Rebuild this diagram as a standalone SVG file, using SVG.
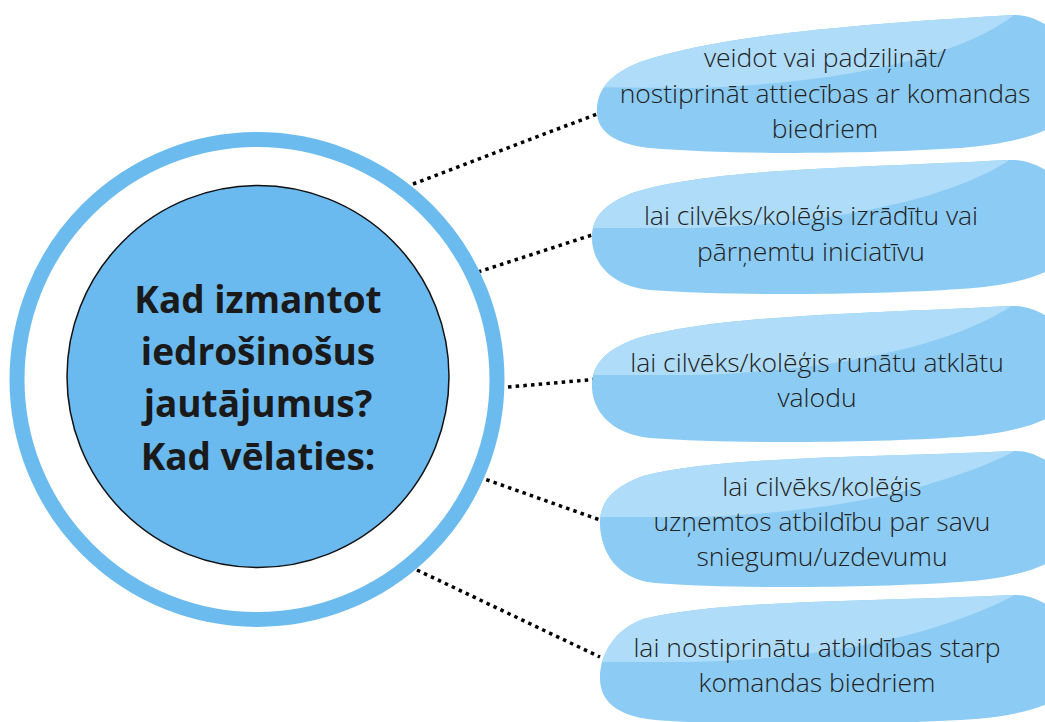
<svg xmlns="http://www.w3.org/2000/svg" xmlns:xlink="http://www.w3.org/1999/xlink" width="1045" height="722" viewBox="0 0 1045 722">
<style>
.dark{fill:#8ccbf3}
.light{fill:#aedcf9}
.btxt{font-family:"Open Sans","Liberation Sans",sans-serif;font-weight:300;font-size:26.5px;fill:#222;text-anchor:middle}
.ctxt{font-family:"Open Sans","Liberation Sans",sans-serif;font-weight:700;font-size:37px;fill:#1a1a1a;text-anchor:middle}
.dot{stroke:#000;stroke-width:3.5;stroke-dasharray:3.5 4.2;fill:none}
</style>
<rect width="1045" height="722" fill="#fff"/>
<g id="connectors">
<line class="dot" x1="413" y1="184" x2="597" y2="114"/>
<line class="dot" x1="478" y1="272" x2="595" y2="234"/>
<line class="dot" x1="508" y1="387" x2="599" y2="379"/>
<line class="dot" x1="479" y1="477" x2="600" y2="520"/>
<line class="dot" x1="417" y1="570" x2="600" y2="657"/>
</g>
<g id="center">
<circle cx="257" cy="379.5" r="240" fill="none" stroke="#6bbbef" stroke-width="15"/>
<circle cx="258" cy="376.5" r="191" fill="#6ab9ef" stroke="#111" stroke-width="1.5"/>
<text class="ctxt" x="258" y="313">Kad izmantot</text>
<text class="ctxt" x="258" y="365">iedrošinošus</text>
<text class="ctxt" x="258" y="417">jautājumus?</text>
<text class="ctxt" x="258" y="470">Kad vēlaties:</text>
</g>
<defs>
<clipPath id="c1"><path d="M597,113 C596,90 610,74 640,62 C720,35 860,24 1013,15 C1040,13 1075,40 1080,80 C1085,120 1040,142 960,148 C870,154 730,155 650,148 C615,144 598,132 597,113 Z"/></clipPath>
<clipPath id="c2"><path d="M592,240 C591,217 605,203 635,192 C715,168 860,168 1008,160 C1040,158 1075,185 1080,222 C1085,262 1040,284 960,289 C870,295 730,296 650,290 C610,286 593,262 592,240 Z"/></clipPath>
<clipPath id="c3"><path d="M592,388 C591,365 605,350 635,339 C715,315 860,314 1010,306 C1040,304 1075,330 1080,368 C1085,408 1040,432 960,437 C870,443 730,444 650,438 C610,434 593,410 592,388 Z"/></clipPath>
<clipPath id="c4"><path d="M600,525 C599,502 613,487 643,476 C723,456 860,458 1013,451 C1040,449 1075,475 1080,513 C1085,553 1040,577 960,582 C870,588 730,589 655,583 C615,579 601,550 600,525 Z"/></clipPath>
<clipPath id="c5"><path d="M600,680 C599,657 613,630 643,619 C723,600 860,602 1013,595 C1040,593 1075,618 1080,656 C1085,696 1040,716 960,720 C870,725 730,726 655,720 C615,716 601,700 600,680 Z"/></clipPath>
</defs>
<g id="node1" clip-path="url(#c1)">
<rect class="dark" x="580" y="0" width="520" height="170"/>
<path class="light" d="M570,87 L690,88 C780,86 860,75 923,57 C960,46 990,33 1013,16 L1013,0 L570,0 Z"/>
</g>
<g id="node2" clip-path="url(#c2)">
<rect class="dark" x="580" y="150" width="520" height="160"/>
<path class="light" d="M570,228 L690,228 C780,226 860,215 923,197 C960,186 990,173 1008,161 L1008,140 L570,140 Z"/>
</g>
<g id="node3" clip-path="url(#c3)">
<rect class="dark" x="580" y="295" width="520" height="160"/>
<path class="light" d="M570,375 L690,375 C780,373 860,362 923,344 C960,333 990,320 1010,307 L1010,290 L570,290 Z"/>
</g>
<g id="node4" clip-path="url(#c4)">
<rect class="dark" x="580" y="440" width="520" height="160"/>
<path class="light" d="M570,517 L690,517 C780,515 860,504 923,486 C960,475 990,464 1013,452 L1013,430 L570,430 Z"/>
</g>
<g id="node5" clip-path="url(#c5)">
<rect class="dark" x="580" y="585" width="520" height="140"/>
<path class="light" d="M570,662 L690,662 C780,660 860,649 923,631 C960,620 990,608 1013,596 L1013,575 L570,575 Z"/>
</g>
<g id="labels">
<text class="btxt" x="825" y="67">veidot vai padziļināt/</text>
<text class="btxt" x="825" y="103">nostiprināt attiecības ar komandas</text>
<text class="btxt" x="825" y="138">biedriem</text>
<text class="btxt" x="811" y="225">lai cilvēks/kolēģis izrādītu vai</text>
<text class="btxt" x="811" y="261">pārņemtu iniciatīvu</text>
<text class="btxt" x="817" y="372">lai cilvēks/kolēģis runātu atklātu</text>
<text class="btxt" x="817" y="407">valodu</text>
<text class="btxt" x="822" y="496">lai cilvēks/kolēģis</text>
<text class="btxt" x="822" y="531">uzņemtos atbildību par savu</text>
<text class="btxt" x="822" y="566">sniegumu/uzdevumu</text>
<text class="btxt" x="817" y="657">lai nostiprinātu atbildības starp</text>
<text class="btxt" x="817" y="692">komandas biedriem</text>
</g>
</svg>
